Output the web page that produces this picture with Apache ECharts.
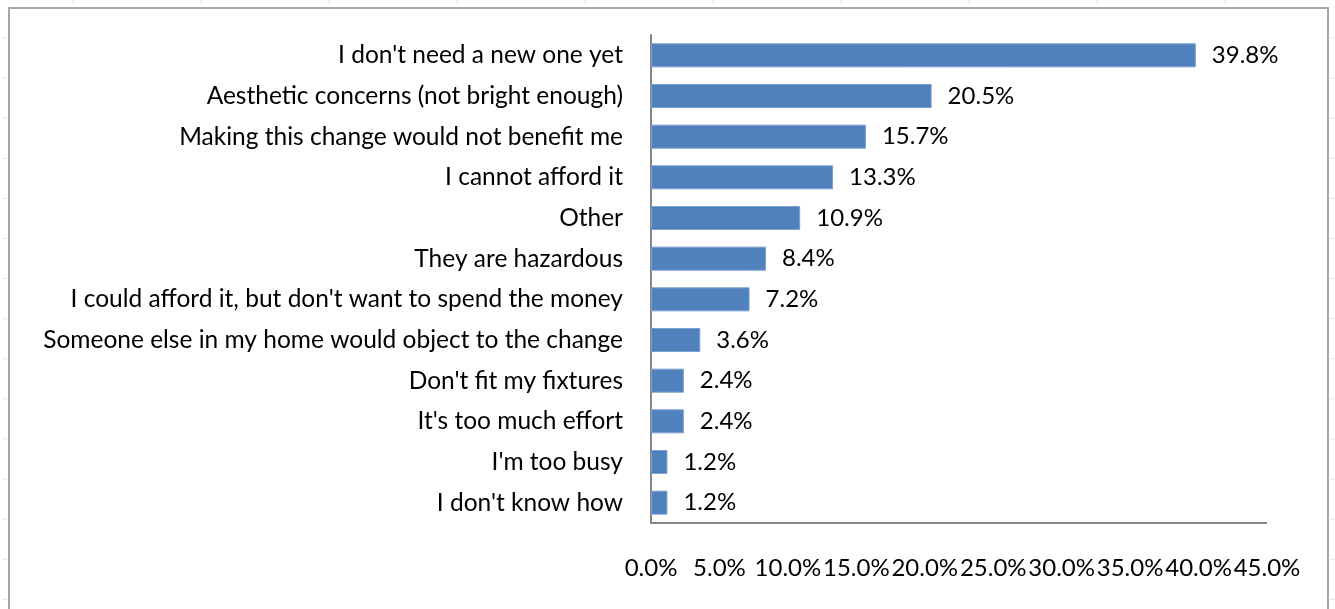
<!DOCTYPE html>
<html>
<head>
<meta charset="utf-8">
<script src="https://cdn.jsdelivr.net/npm/echarts@6/dist/echarts.min.js"></script>
<style>
  html, body { margin: 0; padding: 0; background: #ffffff; }
  #chart { width: 1335px; height: 609px; }
</style>
</head>
<body>
<div id="chart"></div>
<script>
// Reasons for not switching bulbs, share of respondents (%)
const reasons = [
  "I don't need a new one yet",
  "Aesthetic concerns (not bright enough)",
  "Making this change would not benefit me",
  "I cannot afford it",
  "Other",
  "They are hazardous",
  "I could afford it, but don't want to spend the money",
  "Someone else in my home would object to the change",
  "Don't fit my fixtures",
  "It's too much effort",
  "I'm too busy",
  "I don't know how"
];
const shares = [39.8, 20.5, 15.7, 13.3, 10.9, 8.4, 7.2, 3.6, 2.4, 2.4, 1.2, 1.2];
const axisMax = 45;
const axisStep = 5;

const FONT = 'Lato, "Open Sans", sans-serif';

const chart = echarts.init(document.getElementById('chart'), null, { renderer: 'canvas' });

// faint worksheet cell lines peeking out around the chart frame
const sheetMarks = [];
for (let x = 73; x < 1335; x += 128) {
  sheetMarks.push({ type: 'line', silent: true,
    shape: { x1: x, y1: 0, x2: x, y2: 5 },
    style: { stroke: '#dde3ee', lineWidth: 1 } });
}
for (let y = 38; y < 609; y += 40.1) {
  sheetMarks.push({ type: 'line', silent: true,
    shape: { x1: 3, y1: y, x2: 7, y2: y },
    style: { stroke: '#dde3ee', lineWidth: 1 } });
  sheetMarks.push({ type: 'line', silent: true,
    shape: { x1: 1330, y1: y, x2: 1335, y2: y },
    style: { stroke: '#dde3ee', lineWidth: 1 } });
}

chart.setOption({
  animation: false,
  backgroundColor: '#ffffff',
  grid: { left: 651, right: 68, top: 35, bottom: 86, containLabel: false },
  xAxis: {
    type: 'value',
    min: 0,
    max: axisMax,
    interval: axisStep,
    axisLine: { show: false },
    axisTick: { show: false },
    splitLine: { show: false },
    axisLabel: {
      margin: 33,
      color: '#000000',
      fontFamily: FONT,
      fontSize: 24,
      formatter: v => v.toFixed(1) + '%'
    }
  },
  yAxis: {
    type: 'category',
    inverse: true,
    data: reasons,
    axisLine: { show: true, lineStyle: { color: '#868686', width: 2 } },
    axisTick: { show: false },
    axisLabel: {
      margin: 28,
      padding: [4, 0, 0, 0],
      color: '#000000',
      fontFamily: FONT,
      fontSize: 24.5
    }
  },
  series: [
    {
      type: 'bar',
      data: shares,
      barWidth: 24,
      itemStyle: { color: '#4f81bd', borderColor: '#7aa0d0', borderWidth: 1 },
      label: {
        show: true,
        position: 'right',
        distance: 16,
        padding: [5, 0, 0, 0],
        color: '#000000',
        fontFamily: FONT,
        fontSize: 24,
        formatter: p => p.value.toFixed(1) + '%'
      }
    }
  ]
});

// chart frame and the bottom axis line across the plot area
chart.setOption({
  graphic: sheetMarks.concat([
    {
      type: 'rect',
      shape: { x: 9, y: 8, width: 1319, height: 620 },
      style: { fill: 'none', stroke: '#a6a6a6', lineWidth: 2 },
      silent: true
    },
    {
      type: 'line',
      shape: {
        x1: chart.convertToPixel({ xAxisIndex: 0 }, 0),
        y1: 523,
        x2: chart.convertToPixel({ xAxisIndex: 0 }, axisMax),
        y2: 523
      },
      style: { stroke: '#868686', lineWidth: 2 },
      silent: true
    }
  ])
});
</script>
</body>
</html>
